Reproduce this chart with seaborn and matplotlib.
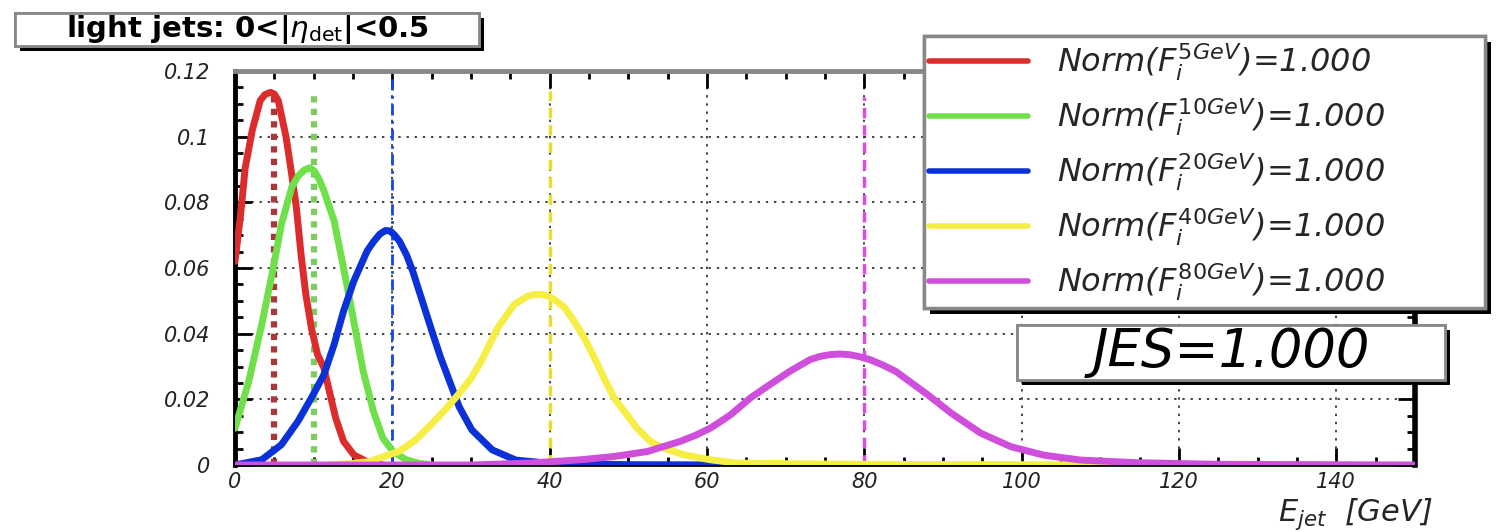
import numpy as np
import pandas as pd
import matplotlib
matplotlib.use("Agg")
import matplotlib.pyplot as plt
import seaborn as sns
from matplotlib import patheffects as pe
from matplotlib.patches import Rectangle
from matplotlib.ticker import MultipleLocator

# ---------------- data ----------------
series_names = ["5GeV", "10GeV", "20GeV", "40GeV", "80GeV"]
peak_energies = [5, 10, 20, 40, 80]
norm_values = [1.000, 1.000, 1.000, 1.000, 1.000]
jes_value = 1.000

e_5 = [0, 0.7, 1.3, 2.2, 3.2, 3.8, 4.5, 5.0, 5.5, 6.5, 7.2, 7.8, 8.4, 9.0, 9.7, 10.5, 11.3, 12.0,
       12.8, 13.8, 15.1, 16.8, 18.8]
f_5 = [0.062, 0.076, 0.0906, 0.102, 0.111, 0.1128, 0.1135, 0.1130, 0.111, 0.0998, 0.0886, 0.0784,
       0.064, 0.052, 0.0418, 0.0336, 0.0296, 0.0224, 0.0143, 0.0072, 0.0031, 0.001, 0.0]

e_10 = [0, 1.75, 3.4, 4.7, 5.9, 7.2, 8.0, 8.8, 9.5, 10.1, 10.7, 11.3, 12.6, 13.8, 15.1, 16.3,
        17.6, 18.8, 20.1, 21.75, 23.4, 25]
f_10 = [0.0112, 0.0255, 0.0428, 0.058, 0.0733, 0.0845, 0.088, 0.0898, 0.0905, 0.0895, 0.087,
        0.0835, 0.0743, 0.060, 0.0438, 0.0285, 0.0163, 0.0082, 0.0041, 0.0016, 0.0005, 0.0]

e_20 = [0, 3.4, 5.9, 8.0, 9.7, 11.3, 12.6, 13.8, 15.1, 16.8, 17.6, 18.4, 19.1, 19.7, 20.3, 20.9,
        21.8, 22.6, 23.8, 25.0, 26.1, 27.2, 28.5, 30.1, 32.7, 35.7, 40, 50, 65]
f_20 = [0.0, 0.0016, 0.0062, 0.0133, 0.0204, 0.0275, 0.0367, 0.0469, 0.056, 0.0652, 0.068,
        0.0703, 0.0714, 0.0713, 0.070, 0.0682, 0.064, 0.059, 0.050, 0.041, 0.033, 0.026, 0.0177,
        0.0107, 0.0046, 0.0015, 0.0005, 0.0001, 0.0]

e_40 = [12, 15, 17, 20.8, 22.9, 25.0, 26.7, 28.4, 29.9, 31.3, 33.4, 35.5, 37.2, 38.0, 38.9, 39.8,
        40.6, 41.9, 43.1, 44.4, 45.7, 46.9, 48.2, 49.5, 51.1, 52.8, 54.5, 57.1, 60.4, 63.8, 70,
        80, 100, 125]
f_40 = [0.0, 0.0005, 0.001, 0.0041, 0.0075, 0.0125, 0.0168, 0.0215, 0.026, 0.0316, 0.0418,
        0.0489, 0.0514, 0.0519, 0.052, 0.0514, 0.0504, 0.0479, 0.0438, 0.0387, 0.0326, 0.0265,
        0.0204, 0.0163, 0.0112, 0.0072, 0.0051, 0.0031, 0.0016, 0.0006, 0.0004, 0.0002, 0.0001,
        0.0]

e_80 = [0, 30, 37.6, 44.0, 48.2, 52.4, 56.6, 58.5, 60.4, 61.7, 63.0, 65.5, 68.0, 70.5, 73.1,
        74.4, 75.6, 76.9, 78.1, 79.4, 80.7, 82.3, 84.0, 86.0, 88.0, 91.1, 94.8, 98.6, 102.8,
        107.5, 114.6, 125, 150]
f_80 = [0.0, 0.0, 0.0006, 0.0016, 0.0026, 0.0041, 0.0072, 0.0090, 0.0112, 0.0132, 0.0153,
        0.0204, 0.0245, 0.0285, 0.0321, 0.0331, 0.0336, 0.0338, 0.0336, 0.0330, 0.0321, 0.0305,
        0.0285, 0.025, 0.0215, 0.0157, 0.0097, 0.0056, 0.003, 0.0015, 0.0007, 0.0002, 0.0]

marker_tops = [0.113, 0.113, 0.120, 0.114, 0.112]

x_tick_values = [0, 20, 40, 60, 80, 100, 120, 140]
x_tick_labels = ["0", "20", "40", "60", "80", "100", "120", "140"]
y_tick_values = [0, 0.02, 0.04, 0.06, 0.08, 0.10, 0.12]
y_tick_labels = ["0", "0.02", "0.04", "0.06", "0.08", "0.1", "0.12"]

title_text = r"light jets: 0<|$\eta_{\mathrm{det}}$|<0.5"
x_label_text = r"$E_{jet}$  [GeV]"

# ---------------- styles ----------------
curve_colors = ["#dd2c2c", "#6fe04a", "#0a32d8", "#f7ee45", "#cf4fdc"]
marker_colors = ["#a8383a", "#7ccc62", "#1448e8", "#e8de30", "#d84ee0"]
marker_styles = [(0, (1, 1)), (0, (1, 1)), (0, (4, 2, 1, 2)), (0, (3, 2)), (0, (3, 2))]
marker_widths = [4.5, 4.5, 2.0, 2.5, 2.5]

sns.set_theme(style="white")
plt.rcParams["font.family"] = ["DejaVu Sans"]
plt.rcParams["mathtext.fontset"] = "dejavusans"

W, H = 1506, 532
fig = plt.figure(figsize=(W / 100, H / 100), dpi=100)
fig.patch.set_facecolor("white")
ax_l, ax_r, ax_t, ax_b = 235, 1415, 71, 465
ax = fig.add_axes([ax_l / W, (H - ax_b) / H, (ax_r - ax_l) / W, (ax_b - ax_t) / H])
ax.set_facecolor("white")

# long-form table
energies = [e_5, e_10, e_20, e_40, e_80]
values = [f_5, f_10, f_20, f_40, f_80]
frames = []
for name, e, f in zip(series_names, energies, values):
    frames.append(pd.DataFrame({"E": e, "F": f, "series": name}))
df = pd.concat(frames, ignore_index=True)

ax.set_xlim(0, 150)
ax.set_ylim(0, 0.12)
ax.set_xticks(x_tick_values)
ax.set_yticks(y_tick_values)
ax.grid(True, which="major", color="#444444", linestyle=(0, (1.2, 3)), linewidth=1.4)
ax.set_axisbelow(True)

# marker lines at nominal energies
for e0, top, c, ls, lw in zip(peak_energies, marker_tops, marker_colors, marker_styles, marker_widths):
    ax.vlines(e0, 0, top, colors=c, linestyles=[ls], linewidth=lw, zorder=2)

sns.lineplot(data=df, x="E", y="F", hue="series", hue_order=series_names,
             palette=curve_colors, linewidth=5, sort=False, legend=False,
             estimator=None, ax=ax, zorder=3)
for ln in ax.get_lines():
    ln.set_solid_joinstyle("round")
    ln.set_solid_capstyle("round")

ax.set_xlim(0, 150)
ax.set_ylim(0, 0.12)
ax.set_xticks(x_tick_values)
ax.set_xticklabels(x_tick_labels, fontstyle="italic", fontsize=15, color="#222222")
ax.set_yticks(y_tick_values)
ax.set_yticklabels(y_tick_labels, fontstyle="italic", fontsize=15, color="#222222")
ax.xaxis.set_minor_locator(MultipleLocator(5))
ax.yaxis.set_minor_locator(MultipleLocator(0.005))
ax.tick_params(which="both", direction="in", top=True, right=True, bottom=True, left=True,
               color="black", width=2)
ax.tick_params(which="major", length=12)
ax.tick_params(which="minor", length=6)
ax.tick_params(axis="y", which="major", pad=18)
ax.tick_params(axis="x", which="major", pad=5)

ax.set_xlabel(x_label_text, fontstyle="italic", fontsize=22, ha="right", va="baseline")
ax.set_ylabel("")
ax.xaxis.set_label_coords((1433 - ax_l) / (ax_r - ax_l), (ax_b - 521) / (ax_b - ax_t))

for side, col, lw in [("top", "#888888", 3.5), ("left", "black", 3.5),
                      ("right", "black", 4.0), ("bottom", "black", 2.0)]:
    ax.spines[side].set_visible(True)
    ax.spines[side].set_color(col)
    ax.spines[side].set_linewidth(lw)

# legend
handles = ax.get_lines()[:len(series_names)]
labels = [rf"Norm($F_{{i}}^{{\mathit{{{n}}}}}$)={v:.3f}" for n, v in zip(series_names, norm_values)]
leg = ax.legend(handles, labels, loc="upper left",
                bbox_to_anchor=(924 / W, 1 - 36 / H, (1485 - 924) / W, 0),
                bbox_transform=fig.transFigure, mode="expand", borderaxespad=0,
                frameon=True, fancybox=False, framealpha=1, edgecolor="#888888",
                prop={"style": "italic", "size": 23}, handlelength=3.1,
                handletextpad=0.9, labelspacing=0.42, borderpad=0.16)
leg.get_frame().set_linewidth(2.5)
leg.get_frame().set_path_effects([pe.withSimplePatchShadow(offset=(4, -4), shadow_rgbFace="black", alpha=1.0), pe.Normal()])
for line in leg.get_lines():
    line.set_linewidth(4)

def fig_box(x0, y0, x1, y1, text, fs, style, weight):
    rect = Rectangle((x0 / W, 1 - y1 / H), (x1 - x0) / W, (y1 - y0) / H,
                     transform=fig.transFigure, facecolor="white", edgecolor="#888888",
                     linewidth=2, zorder=5)
    rect.set_path_effects([pe.withSimplePatchShadow(offset=(3.5, -3.5), shadow_rgbFace="black", alpha=1.0), pe.Normal()])
    fig.add_artist(rect)
    fig.text((x0 + x1) / 2 / W, 1 - (y0 + y1) / 2 / H, text, ha="center", va="center",
             fontsize=fs, fontstyle=style, fontweight=weight, color="black", zorder=6)

fig_box(15, 13, 479, 46, title_text, 21, "normal", "bold")
fig_box(1017, 325, 1445, 380, f"JES={jes_value:.3f}", 38, "italic", "normal")

fig.savefig("out.png", dpi=100, facecolor="white")
